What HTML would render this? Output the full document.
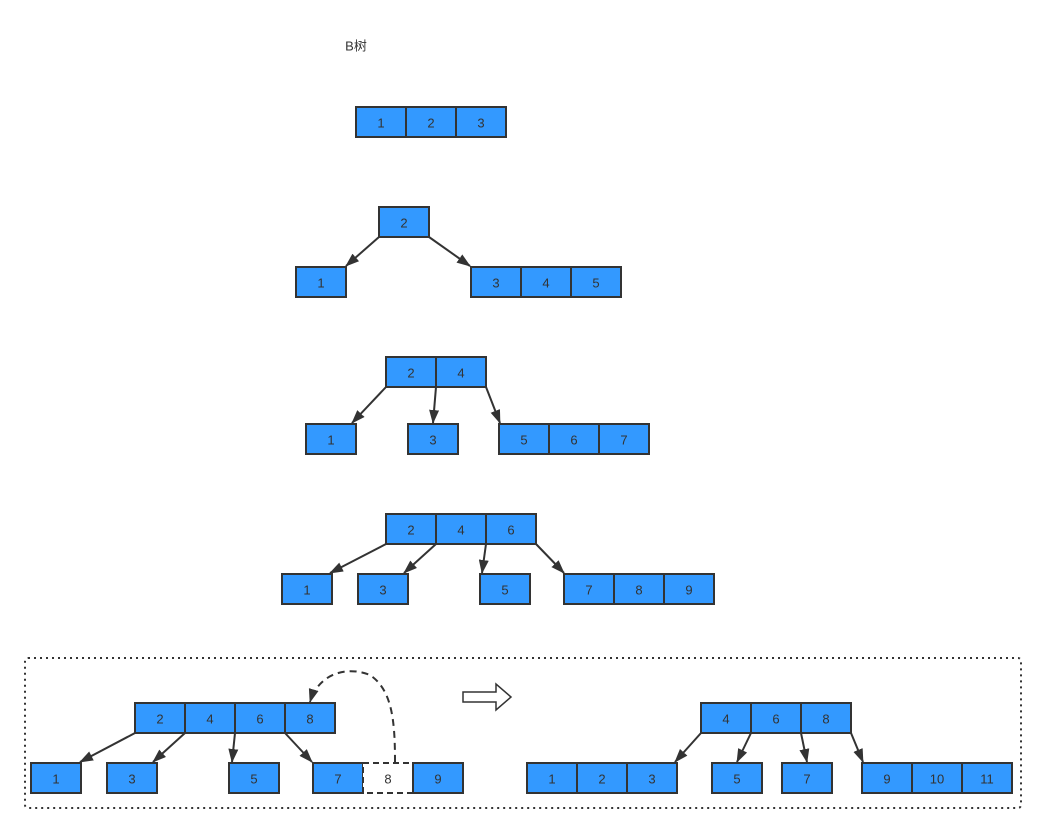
<!DOCTYPE html>
<html><head><meta charset="utf-8"><style>
html,body{margin:0;padding:0;background:#fff;}
svg{display:block;}
text{font-family:"Liberation Sans","Noto Sans CJK SC",sans-serif;font-size:13px;fill:#333;text-anchor:middle;dominant-baseline:central;}
.c{fill:#3399ff;stroke:#333;stroke-width:2;}
.l{stroke:#333;stroke-width:2;fill:none;marker-end:url(#a);}
</style></head><body>
<svg width="1046" height="833" viewBox="0 0 1046 833" xmlns="http://www.w3.org/2000/svg">
<defs><marker id="a" viewBox="0 0 14 10" refX="13" refY="5" markerWidth="14" markerHeight="10" markerUnits="userSpaceOnUse" orient="auto"><path d="M0,0 L14,5 L0,10 z" fill="#333"/></marker></defs>
<text x="356" y="46">B树</text>

<!-- row1 -->
<rect class="c" x="356" y="107" width="50" height="30"/><text x="381" y="123">1</text>
<rect class="c" x="406" y="107" width="50" height="30"/><text x="431" y="123">2</text>
<rect class="c" x="456" y="107" width="50" height="30"/><text x="481" y="123">3</text>

<!-- row2 -->
<rect class="c" x="379" y="207" width="50" height="30"/><text x="404" y="223">2</text>
<rect class="c" x="296" y="267" width="50" height="30"/><text x="321" y="283">1</text>
<rect class="c" x="471" y="267" width="50" height="30"/><text x="496" y="283">3</text>
<rect class="c" x="521" y="267" width="50" height="30"/><text x="546" y="283">4</text>
<rect class="c" x="571" y="267" width="50" height="30"/><text x="596" y="283">5</text>
<line class="l" x1="379" y1="237" x2="346" y2="266"/>
<line class="l" x1="429" y1="237" x2="470" y2="266"/>

<!-- row3 -->
<rect class="c" x="386" y="357" width="50" height="30"/><text x="411" y="373">2</text>
<rect class="c" x="436" y="357" width="50" height="30"/><text x="461" y="373">4</text>
<rect class="c" x="306" y="424" width="50" height="30"/><text x="331" y="440">1</text>
<rect class="c" x="408" y="424" width="50" height="30"/><text x="433" y="440">3</text>
<rect class="c" x="499" y="424" width="50" height="30"/><text x="524" y="440">5</text>
<rect class="c" x="549" y="424" width="50" height="30"/><text x="574" y="440">6</text>
<rect class="c" x="599" y="424" width="50" height="30"/><text x="624" y="440">7</text>
<line class="l" x1="386" y1="387" x2="352" y2="423"/>
<line class="l" x1="436" y1="387" x2="433" y2="423"/>
<line class="l" x1="486" y1="387" x2="500" y2="423"/>

<!-- row4 -->
<rect class="c" x="386" y="514" width="50" height="30"/><text x="411" y="530">2</text>
<rect class="c" x="436" y="514" width="50" height="30"/><text x="461" y="530">4</text>
<rect class="c" x="486" y="514" width="50" height="30"/><text x="511" y="530">6</text>
<rect class="c" x="282" y="574" width="50" height="30"/><text x="307" y="590">1</text>
<rect class="c" x="358" y="574" width="50" height="30"/><text x="383" y="590">3</text>
<rect class="c" x="480" y="574" width="50" height="30"/><text x="505" y="590">5</text>
<rect class="c" x="564" y="574" width="50" height="30"/><text x="589" y="590">7</text>
<rect class="c" x="614" y="574" width="50" height="30"/><text x="639" y="590">8</text>
<rect class="c" x="664" y="574" width="50" height="30"/><text x="689" y="590">9</text>
<line class="l" x1="386" y1="544" x2="330" y2="573"/>
<line class="l" x1="436" y1="544" x2="404" y2="573"/>
<line class="l" x1="486" y1="544" x2="482" y2="573"/>
<line class="l" x1="536" y1="544" x2="564" y2="573"/>

<!-- bottom frame -->
<rect x="25" y="658" width="996" height="150" rx="3" fill="none" stroke="#333" stroke-width="2" stroke-dasharray="2,4"/>

<rect class="c" x="135" y="703" width="50" height="30"/><text x="160" y="719">2</text>
<rect class="c" x="185" y="703" width="50" height="30"/><text x="210" y="719">4</text>
<rect class="c" x="235" y="703" width="50" height="30"/><text x="260" y="719">6</text>
<rect class="c" x="285" y="703" width="50" height="30"/><text x="310" y="719">8</text>
<rect class="c" x="31" y="763" width="50" height="30"/><text x="56" y="779">1</text>
<rect class="c" x="107" y="763" width="50" height="30"/><text x="132" y="779">3</text>
<rect class="c" x="229" y="763" width="50" height="30"/><text x="254" y="779">5</text>
<rect class="c" x="313" y="763" width="50" height="30"/><text x="338" y="779">7</text>
<rect x="363" y="763" width="50" height="30" fill="#fff" stroke="#333" stroke-width="2" stroke-dasharray="6,4"/><text x="388" y="779">8</text>
<rect class="c" x="413" y="763" width="50" height="30"/><text x="438" y="779">9</text>
<line class="l" x1="135" y1="733" x2="80" y2="762"/>
<line class="l" x1="185" y1="733" x2="153" y2="762"/>
<line class="l" x1="235" y1="733" x2="232" y2="762"/>
<line class="l" x1="285" y1="733" x2="312" y2="762"/>
<path d="M395,762 C395,720 392,690 370,675 C345,665 318,675 310,702" fill="none" stroke="#333" stroke-width="2" stroke-dasharray="7,5" marker-end="url(#a)"/>

<!-- hollow arrow -->
<path d="M463,692 L496,692 L496,684 L511,697 L496,710 L496,702 L463,702 z" fill="#fff" stroke="#333" stroke-width="1.5"/>

<!-- right tree -->
<rect class="c" x="701" y="703" width="50" height="30"/><text x="726" y="719">4</text>
<rect class="c" x="751" y="703" width="50" height="30"/><text x="776" y="719">6</text>
<rect class="c" x="801" y="703" width="50" height="30"/><text x="826" y="719">8</text>
<rect class="c" x="527" y="763" width="50" height="30"/><text x="552" y="779">1</text>
<rect class="c" x="577" y="763" width="50" height="30"/><text x="602" y="779">2</text>
<rect class="c" x="627" y="763" width="50" height="30"/><text x="652" y="779">3</text>
<rect class="c" x="712" y="763" width="50" height="30"/><text x="737" y="779">5</text>
<rect class="c" x="782" y="763" width="50" height="30"/><text x="807" y="779">7</text>
<rect class="c" x="862" y="763" width="50" height="30"/><text x="887" y="779">9</text>
<rect class="c" x="912" y="763" width="50" height="30"/><text x="937" y="779">10</text>
<rect class="c" x="962" y="763" width="50" height="30"/><text x="987" y="779">11</text>
<line class="l" x1="701" y1="733" x2="675" y2="762"/>
<line class="l" x1="751" y1="733" x2="737" y2="762"/>
<line class="l" x1="801" y1="733" x2="807" y2="762"/>
<line class="l" x1="851" y1="733" x2="863" y2="762"/>
</svg>
</body></html>
